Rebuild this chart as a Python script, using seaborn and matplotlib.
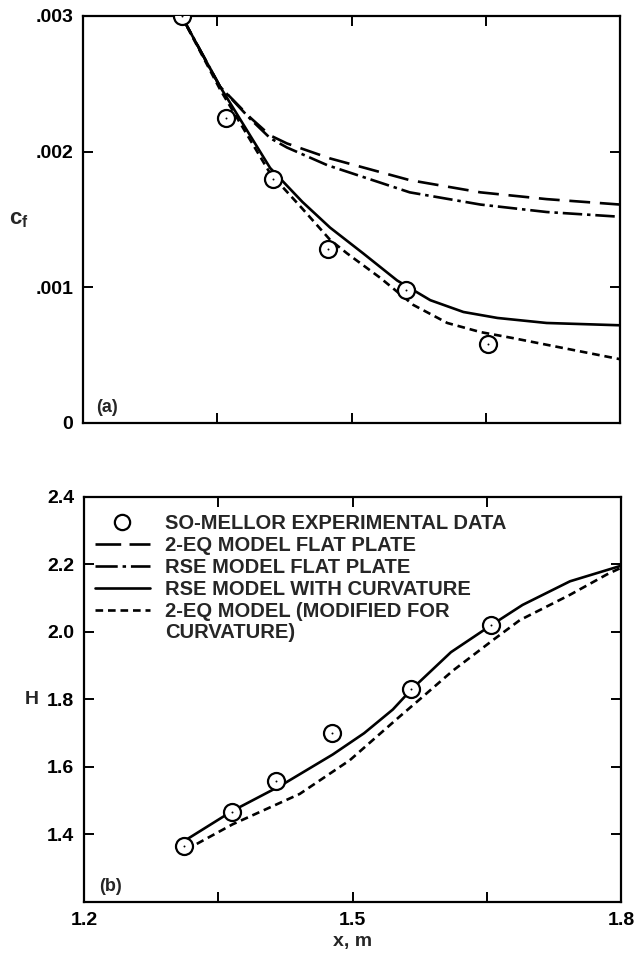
import numpy as np
import pandas as pd
import matplotlib
matplotlib.use("Agg")
import matplotlib.pyplot as plt
from matplotlib.lines import Line2D
import seaborn as sns

# =========================
# STYLE
# =========================
sns.set_theme(style="ticks")
plt.rcParams['font.family'] = ['Liberation Sans', 'DejaVu Sans']
plt.rcParams['font.weight'] = 'bold'
plt.rcParams['mathtext.fontset'] = 'custom'
plt.rcParams['mathtext.bf'] = 'Liberation Sans:bold'
plt.rcParams['mathtext.rm'] = 'Liberation Sans:bold'
plt.rcParams['lines.scale_dashes'] = False

# =========================
# DATA
# =========================
# experimental points (So-Mellor)
x_exp_cf = [1.310, 1.360, 1.412, 1.474, 1.561, 1.653]
cf_exp = [0.00300, 0.00225, 0.00180, 0.00128, 0.00098, 0.00058]
x_exp_h = [1.312, 1.365, 1.415, 1.477, 1.565, 1.655]
h_exp = [1.366, 1.466, 1.557, 1.700, 1.831, 2.020]

# (a) skin friction curves
x_eq_flat = [1.310, 1.353, 1.387, 1.409, 1.428, 1.476, 1.565, 1.644, 1.718, 1.800]
cf_eq_flat = [0.00300, 0.00248, 0.00225, 0.00212, 0.00206, 0.00195, 0.00179, 0.00170, 0.00165, 0.00161]

x_rse_flat = [1.310, 1.353, 1.387, 1.409, 1.428, 1.473, 1.565, 1.644, 1.718, 1.800]
cf_rse_flat = [0.00300, 0.00248, 0.00224, 0.00210, 0.00203, 0.00190, 0.00170, 0.00161, 0.001555, 0.00152]

x_rse_curv = [1.310, 1.353, 1.409, 1.445, 1.476, 1.513, 1.551, 1.588, 1.625, 1.663, 1.718, 1.800]
cf_rse_curv = [0.00300, 0.00248, 0.00188, 0.00163, 0.00144, 0.00125, 0.00105, 0.000905, 0.000818, 0.000774, 0.000737, 0.00072]

x_eq_mod = [1.310, 1.353, 1.409, 1.445, 1.476, 1.495, 1.532, 1.569, 1.607, 1.644, 1.680, 1.736, 1.800]
cf_eq_mod = [0.00300, 0.00246, 0.00184, 0.00158, 0.00135, 0.00125, 0.00107, 0.00087, 0.000737, 0.00067, 0.000626, 0.000553, 0.00047]

# (b) shape factor curves
x_h_rse = [1.314, 1.366, 1.420, 1.478, 1.513, 1.545, 1.566, 1.610, 1.655, 1.690, 1.743, 1.800]
h_rse = [1.384, 1.470, 1.545, 1.637, 1.700, 1.770, 1.830, 1.940, 2.020, 2.080, 2.150, 2.196]

x_h_eq = [1.326, 1.366, 1.441, 1.497, 1.553, 1.575, 1.612, 1.657, 1.687, 1.743, 1.784, 1.800]
h_eq = [1.372, 1.430, 1.520, 1.620, 1.750, 1.800, 1.885, 1.976, 2.035, 2.110, 2.170, 2.190]

x_ticks = [1.2, 1.35, 1.5, 1.65, 1.8]
x_ticklabels = ['1.2', '', '1.5', '', '1.8']
cf_ticks = [0, 0.001, 0.002, 0.003]
cf_ticklabels = ['0', '.001', '.002', '.003']
h_ticks = [1.2, 1.4, 1.6, 1.8, 2.0, 2.2, 2.4]
h_ticklabels = ['', '1.4', '1.6', '1.8', '2.0', '2.2', '2.4']

labels = [
    "SO-MELLOR EXPERIMENTAL DATA",
    "2-EQ MODEL FLAT PLATE",
    "RSE MODEL FLAT PLATE",
    "RSE MODEL WITH CURVATURE",
    "2-EQ MODEL (MODIFIED FOR",
    "CURVATURE)",
]

# =========================
# LINE STYLES
# =========================
LONG_DASH = (0, (15, 7))
DASH_DOT = (0, (14, 3.5, 2.5, 3.5))
SHORT_DASH = (0, (5.5, 3.5))
LW = 1.9
FS = 14
FS_LEG = 14.5

fig = plt.figure(figsize=(6.34, 9.58), dpi=100)
ax1 = fig.add_axes([0.131, 0.5585, 0.847, 0.4248])
ax2 = fig.add_axes([0.1325, 0.0585, 0.847, 0.4228])


def draw_line(ax, x, y, ls):
    sns.lineplot(x=x, y=y, ax=ax, color='black', linewidth=LW,
                 linestyle=ls, sort=False, estimator=None, zorder=2)


def draw_points(ax, x, y):
    sns.scatterplot(x=x, y=y, ax=ax, marker='o', s=150, facecolor='white',
                    edgecolor='black', linewidth=1.6, zorder=4)
    sns.scatterplot(x=x, y=y, ax=ax, marker='o', s=2, color='black',
                    linewidth=0, zorder=5)


def style_axes(ax):
    for sp in ax.spines.values():
        sp.set_linewidth(1.6)
        sp.set_color('black')
    ax.tick_params(direction='in', length=7, width=1.4, top=True, right=True,
                   labelsize=FS, pad=7, colors='black')
    ax.set_xlim(1.2, 1.8)
    ax.set_xticks(x_ticks)


# =========================
# (a) SKIN FRICTION
# =========================
draw_line(ax1, x_eq_flat, cf_eq_flat, LONG_DASH)
draw_line(ax1, x_rse_flat, cf_rse_flat, DASH_DOT)
draw_line(ax1, x_rse_curv, cf_rse_curv, '-')
draw_line(ax1, x_eq_mod, cf_eq_mod, SHORT_DASH)
draw_points(ax1, x_exp_cf, cf_exp)

style_axes(ax1)
ax1.set_ylim(0, 0.003)
ax1.set_yticks(cf_ticks)
ax1.set_yticklabels(cf_ticklabels, fontweight='bold')
ax1.set_xticklabels([])
ax1.set_xlabel('')
ax1.set_ylabel(r'$\mathbf{c_f}$', fontsize=FS + 2, rotation=0, ha='center', va='center')
ax1.yaxis.set_label_coords(-0.12, 0.5)
ax1.text(0.025, 0.038, '(a)', transform=ax1.transAxes, fontsize=FS - 1,
         fontweight='bold', ha='left', va='center')

# =========================
# (b) SHAPE FACTOR
# =========================
draw_line(ax2, x_h_rse, h_rse, '-')
draw_line(ax2, x_h_eq, h_eq, SHORT_DASH)
draw_points(ax2, x_exp_h, h_exp)

style_axes(ax2)
ax2.set_ylim(1.2, 2.4)
ax2.set_yticks(h_ticks)
ax2.set_yticklabels(h_ticklabels, fontweight='bold')
ax2.set_xticklabels(x_ticklabels, fontweight='bold')
ax2.set_xlabel('x, m', fontsize=FS, fontweight='bold', labelpad=3)
ax2.set_ylabel('H', fontsize=FS, fontweight='bold', rotation=0, ha='center', va='center')
ax2.yaxis.set_label_coords(-0.097, 0.5)
ax2.text(0.028, 0.038, '(b)', transform=ax2.transAxes, fontsize=FS - 1,
         fontweight='bold', ha='left', va='center')

handles = [
    Line2D([], [], marker='o', markersize=11, markerfacecolor='white',
           markeredgecolor='black', markeredgewidth=1.6, linestyle='none'),
    Line2D([], [], color='black', linewidth=LW, linestyle=(0, (18.5, 6))),
    Line2D([], [], color='black', linewidth=LW, linestyle=(0, (16, 3.5, 2.5, 3.5))),
    Line2D([], [], color='black', linewidth=LW, linestyle='-'),
    Line2D([], [], color='black', linewidth=LW, linestyle=SHORT_DASH),
    Line2D([], [], linestyle='none'),
]
leg = ax2.legend(handles, labels, loc='upper left', bbox_to_anchor=(0.02, 0.957),
                 frameon=False, fontsize=FS_LEG, handlelength=2.75, handletextpad=0.75,
                 labelspacing=0.14, borderpad=0, borderaxespad=0)
for t in leg.get_texts():
    t.set_fontweight('bold')

plt.savefig("out.png", dpi=100)
